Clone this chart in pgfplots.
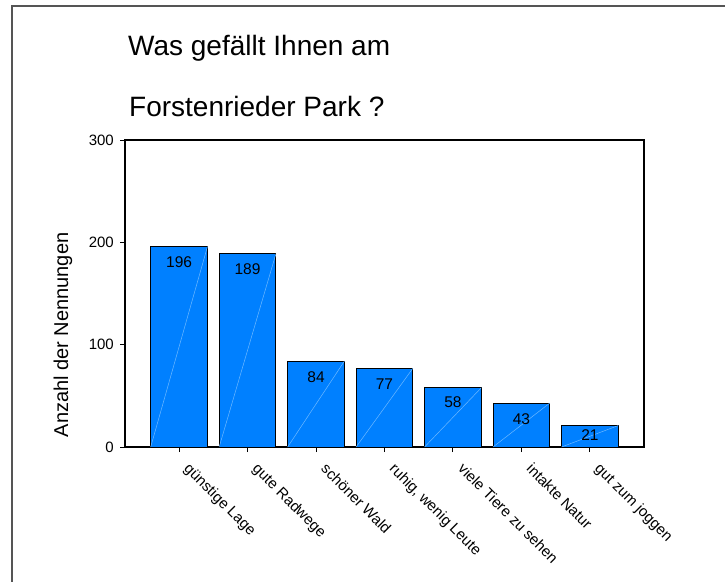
\documentclass[border=0pt]{standalone}
\usepackage{fontspec}
\setmainfont{Liberation Sans}
\usepackage{pgfplots}
\pgfplotsset{compat=1.18}
\usepackage{pgfplotstable}

\definecolor{barblue}{RGB}{0,128,255}
\definecolor{diagblue}{RGB}{110,185,255}
\definecolor{framegray}{RGB}{85,85,85}

% Anzahl der Nennungen je Kategorie; dy = Versatz der Beschriftung
\pgfplotstableread{
x n dy
0 196 -10
1 189 -10
2 84 -10
3 77 -10
4 58 -9
5 43 -10
6 21 -4
}\nennungen

\begin{document}
\begin{tikzpicture}
% page = 725 x 582 px, 1px = 1bp, origin top left
\path[use as bounding box] (0,0) rectangle (725bp,-582bp);
\draw[framegray, line width=2bp] (12bp,-582bp) -- (12bp,-6bp) -- (725bp,-6bp);

\node[anchor=base west, inner sep=0pt, font=\fontsize{28bp}{34bp}\selectfont]
  at (128bp,-55bp) {Was gefällt Ihnen am};
\node[anchor=base west, inner sep=0pt, font=\fontsize{28bp}{34bp}\selectfont]
  at (129bp,-116bp) {Forstenrieder Park ?};

\begin{axis}[
  at={(125bp,-447bp)}, anchor=south west,
  scale only axis,
  width=519bp, height=307bp,
  xmin=-0.79, xmax=6.79,
  ymin=0, ymax=300,
  ytick={0,100,200,300},
  xtick={0,...,6},
  xticklabels={günstige Lage, gute Radwege, schöner Wald, {ruhig, wenig Leute},
               viele Tiere zu sehen, intakte Natur, gut zum joggen},
  tick pos=left,
  tick align=outside,
  major tick length=5bp,
  axis line style={line width=1.3bp},
  every tick/.style={black, line width=1bp},
  /pgf/number format/assume math mode=true,
  ticklabel style={font=\fontsize{15bp}{18bp}\selectfont},
  yticklabel style={inner sep=0pt, xshift=-6bp},
  xticklabel style={rotate=-45, anchor=north west, inner sep=0pt,
                    xshift=15.5bp, yshift=1.5bp},
  ylabel={Anzahl der Nennungen},
  ylabel style={at={(axis description cs:-0.1195,0.365)}, anchor=center,
                font=\fontsize{20bp}{24bp}\selectfont},
  clip=false,
]
\addplot[ybar, bar width=0.83, fill=barblue, draw=black, line width=1bp,
  nodes near coords,
  visualization depends on={\thisrow{dy} \as \dy},
  nodes near coords style={anchor=north, inner sep=0pt, yshift=\dy bp,
    black, font=\fontsize{15.5bp}{18bp}\selectfont}]
  table[x=x, y=n] {\nennungen};
% feine Diagonalen in den Balken (wie im Original)
\addplot[diagblue, line width=0.5bp, unbounded coords=jump] coordinates {
  (-0.415,0) (0.415,196) (0,nan)
  (0.585,0) (1.415,189) (1,nan)
  (1.585,0) (2.415,84) (2,nan)
  (2.585,0) (3.415,77) (3,nan)
  (3.585,0) (4.415,58) (4,nan)
  (4.585,0) (5.415,43) (5,nan)
  (5.585,0) (6.415,21)
};
\end{axis}
\end{tikzpicture}
\end{document}
